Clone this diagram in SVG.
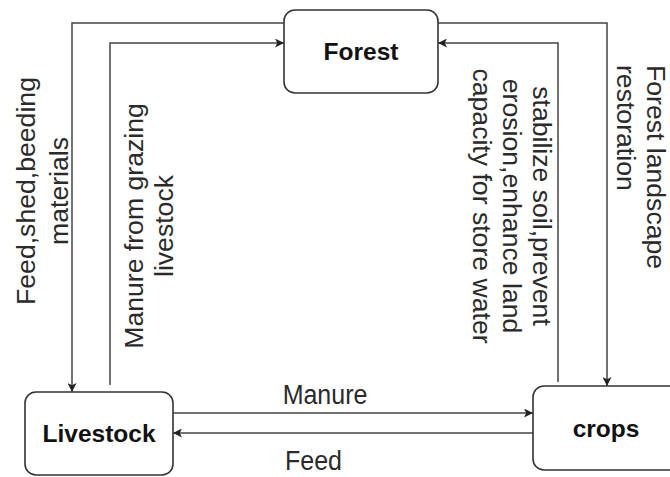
<svg xmlns="http://www.w3.org/2000/svg" width="670" height="477" viewBox="0 0 670 477">
<style>
.box{fill:#fff;stroke:#333;stroke-width:1.6}
.ln{fill:none;stroke:#444;stroke-width:1.5}
.t{font-family:"Liberation Sans",Arial,sans-serif;font-size:25px;fill:#2a2a2a}
.b{font-family:"Liberation Sans",Arial,sans-serif;font-size:24.5px;font-weight:bold;fill:#111;text-anchor:middle}
</style>
<defs>
<marker id="ar" viewBox="0 0 10 10" refX="10" refY="5" markerWidth="9" markerHeight="9" markerUnits="userSpaceOnUse" orient="auto">
<path d="M0,0 L10,5 L0,10 L2.5,5 Z" fill="#222"/>
</marker>
</defs>
<g id="connectors">
<path class="ln" d="M284,23 H72 V392" marker-end="url(#ar)"/>
<path class="ln" d="M110,385 V43 H284" marker-end="url(#ar)"/>
<path class="ln" d="M438,23 H607 V386" marker-end="url(#ar)"/>
<path class="ln" d="M558,382 V43 H438" marker-end="url(#ar)"/>
<path class="ln" d="M173,413 H533" marker-end="url(#ar)"/>
<path class="ln" d="M533,433 H173" marker-end="url(#ar)"/>
</g>
<g id="labels">
<text class="t" text-anchor="middle" transform="translate(35,191) rotate(-90) scale(1.065,1)"><tspan x="0" y="0">Feed,shed,beeding</tspan><tspan x="0" y="33">materials</tspan></text>
<text class="t" text-anchor="middle" transform="translate(143,226) rotate(-90) scale(1.065,1)"><tspan x="0" y="0">Manure from grazing</tspan><tspan x="0" y="30">livestock</tspan></text>
<text class="t" text-anchor="middle" transform="translate(533,206) rotate(90) scale(1.065,1)"><tspan x="0" y="0">stabilize soil,prevent</tspan><tspan x="0" y="30">erosion,enhance land</tspan><tspan x="0" y="60">capacity for store water</tspan></text>
<text class="t" text-anchor="start" transform="translate(647,65) rotate(90) scale(1.065,1)"><tspan x="0" y="0">Forest landscape</tspan><tspan x="0" y="30">restoration</tspan></text>
<text class="t" text-anchor="middle" transform="translate(325,404) scale(1,1.07)">Manure</text>
<text class="t" text-anchor="middle" transform="translate(313.5,470) scale(1,1.07)">Feed</text>
</g>
<g id="forest">
<rect class="box" x="284" y="10" width="154" height="83" rx="11"/>
<text class="b" x="361" y="60">Forest</text>
</g>
<g id="livestock">
<rect class="box" x="25" y="392" width="148" height="83" rx="11"/>
<text class="b" x="99" y="442">Livestock</text>
</g>
<g id="crops">
<rect class="box" x="533" y="386" width="150" height="84" rx="11"/>
<text class="b" x="606" y="437">crops</text>
</g>
</svg>
